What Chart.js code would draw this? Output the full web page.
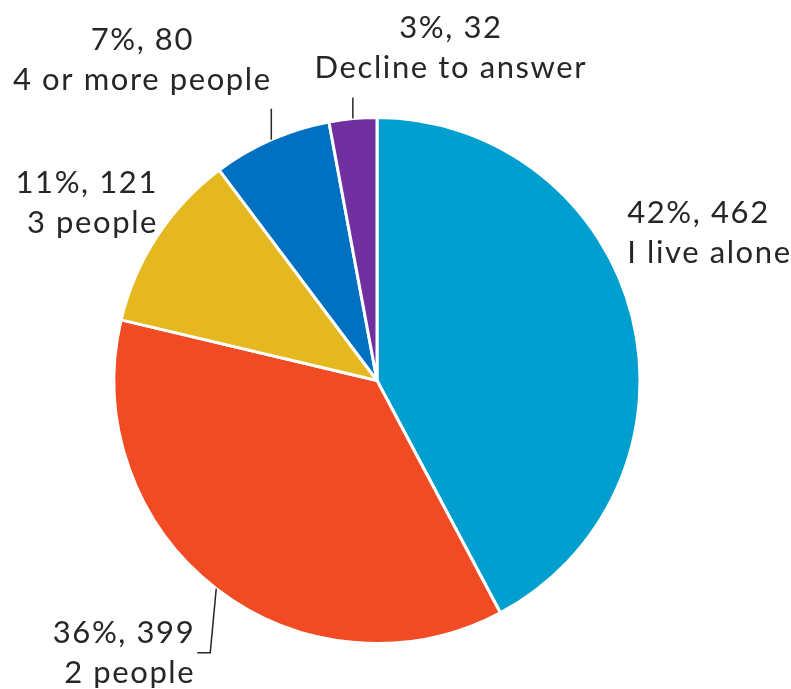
<!DOCTYPE html>
<html>
<head>
<meta charset="utf-8">
<script src="https://cdn.jsdelivr.net/npm/chart.js@4.4.0/dist/chart.umd.min.js"></script>
<style>
  html, body { margin: 0; padding: 0; background: #fff; }
  #wrap { width: 791px; height: 689px; }
</style>
</head>
<body>
<div id="wrap"><canvas id="myChart" width="791" height="689"></canvas></div>
<script>
const categories = ['I live alone', '2 people', '3 people', '4 or more people', 'Decline to answer'];
const counts = [462, 399, 121, 80, 32];
const sliceColors = ['#009fcf', '#f04b23', '#e4b81e', '#0070c0', '#7030a0'];

// where each label sits relative to the slice's outer edge at its mid angle
const labelLayout = [
  { dx: -5, dy: -94, align: 'left' },
  { dx: -21, dy: 54, align: 'right', leader: [[-6, 64], [-19, 64]] },
  { dx: 1, dy: -43, align: 'right' },
  { dx: -129, dy: -90, align: 'center', leader: [[0, -31]] },
  { dx: 98, dy: -81, align: 'center', leader: [[0, -21]] }
];

const FONT = '31px Lato, "Open Sans", sans-serif';
const LINE_H = 40;

const outsideLabels = {
  id: 'outsideLabels',
  afterDraw(chart) {
    const ctx = chart.ctx;
    const meta = chart.getDatasetMeta(0);
    const total = counts.reduce((a, b) => a + b, 0);
    ctx.save();
    ctx.font = FONT;
    ctx.letterSpacing = '1.6px';
    ctx.fillStyle = '#262626';
    ctx.strokeStyle = '#262626';
    ctx.lineWidth = 1.5;
    ctx.textBaseline = 'alphabetic';
    meta.data.forEach((arc, i) => {
      const p = arc.getProps(['x', 'y', 'startAngle', 'endAngle', 'outerRadius'], true);
      const mid = (p.startAngle + p.endAngle) / 2;
      const ax = p.x + Math.cos(mid) * p.outerRadius;
      const ay = p.y + Math.sin(mid) * p.outerRadius;
      const lay = labelLayout[i];
      if (lay.leader) {
        ctx.beginPath();
        ctx.moveTo(ax, ay);
        lay.leader.forEach(pt => ctx.lineTo(ax + pt[0], ay + pt[1]));
        ctx.stroke();
      }
      const pct = Math.round(counts[i] / total * 100);
      ctx.textAlign = lay.align;
      ctx.fillText(pct + '%, ' + counts[i], ax + lay.dx, ay + lay.dy);
      ctx.fillText(categories[i], ax + lay.dx, ay + lay.dy + LINE_H);
    });
    ctx.restore();
  }
};

new Chart(document.getElementById('myChart'), {
  type: 'pie',
  data: {
    labels: categories,
    datasets: [{
      data: counts,
      backgroundColor: sliceColors,
      borderColor: '#ffffff',
      borderWidth: 3
    }]
  },
  options: {
    responsive: false,
    animation: false,
    layout: { padding: { top: 116, bottom: 44, left: 112, right: 149 } },
    plugins: {
      legend: { display: false },
      tooltip: { enabled: false }
    }
  },
  plugins: [outsideLabels]
});
</script>
</body>
</html>
